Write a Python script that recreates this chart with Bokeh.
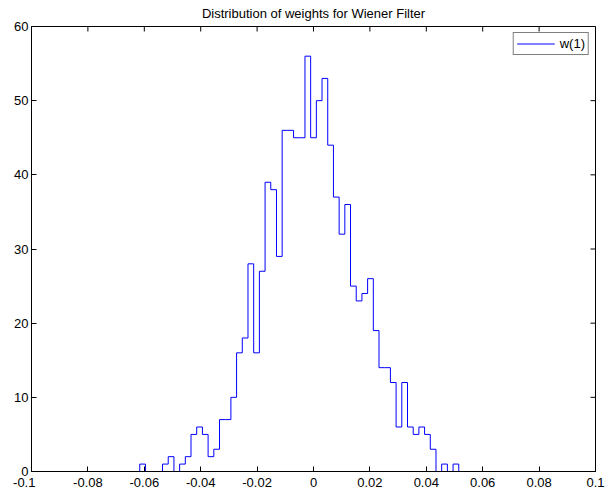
from bokeh.plotting import figure
from bokeh.models import Range1d, FixedTicker, Legend, LegendItem
from bokeh.embed import file_html
from bokeh.resources import INLINE
import numpy as np

# Histogram of the first Wiener filter weight: 100 stair edges spanning [-0.1, 0.1]
edge_start = -0.1
edge_stop = 0.1
n_edges = 100
counts = [
    0, 0, 0, 0, 0, 0, 0, 0, 0, 0,
    0, 0, 0, 0, 0, 0, 0, 0, 0, 1,
    0, 0, 0, 1, 2, 0, 1, 2, 5, 6,
    5, 2, 3, 7, 7, 10, 16, 18, 28, 16,
    27, 39, 38, 29, 46, 46, 45, 45, 56, 45,
    50, 53, 44, 37, 32, 36, 25, 23, 24, 26,
    19, 14, 14, 12, 6, 12, 6, 5, 6, 5,
    3, 0, 1, 0, 1, 0, 0, 0, 0, 0,
    0, 0, 0, 0, 0, 0, 0, 0, 0, 0,
    0, 0, 0, 0, 0, 0, 0, 0, 0, 0,
]
series_label = "w(1)"
x_ticks = [-0.1, -0.08, -0.06, -0.04, -0.02, 0, 0.02, 0.04, 0.06, 0.08, 0.1]
x_tick_labels = ["-0.1", "-0.08", "-0.06", "-0.04", "-0.02", "0",
                 "0.02", "0.04", "0.06", "0.08", "0.1"]
y_ticks = [0, 10, 20, 30, 40, 50, 60]
x_min, x_max = -0.1, 0.1
y_min, y_max = 0, 60

edges = np.linspace(edge_start, edge_stop, n_edges)

FONT = "Liberation Sans"

p = figure(width=615, height=493,
           x_range=Range1d(x_min, x_max), y_range=Range1d(y_min, y_max),
           output_backend="svg", toolbar_location=None,
           title="Distribution of weights for Wiener Filter",
           min_border_left=31, min_border_right=20,
           min_border_top=26, min_border_bottom=22)
p.title.align = "center"
p.title.vertical_align = "top"
p.title.text_font = FONT
p.title.text_font_size = "13px"
p.title.text_font_style = "normal"
p.title.text_color = "black"
p.title.standoff = 8

p.xgrid.visible = False
p.ygrid.visible = False
p.background_fill_color = "white"
p.border_fill_color = "white"
p.outline_line_color = "black"
p.outline_line_width = 1

for ax, ticks in ((p.xaxis[0], x_ticks), (p.yaxis[0], y_ticks)):
    ax.ticker = FixedTicker(ticks=ticks)
    ax.axis_line_color = "black"
    ax.major_tick_line_color = "black"
    ax.major_tick_in = 5
    ax.major_tick_out = 0
    ax.minor_tick_line_color = None
    ax.major_label_text_font = FONT
    ax.major_label_text_font_size = "13px"
    ax.major_label_text_color = "black"
    ax.major_label_standoff = 3

# The leftmost label sits a little left of its tick, clear of the y-axis "0"
x_label_map = {t: s for t, s in zip(x_ticks, x_tick_labels)}
x_label_map[x_ticks[0]] = x_tick_labels[0] + "\u00a0" * 4
p.xaxis[0].major_label_overrides = x_label_map

# Inward tick marks on the top and right edges of the box (half of each dash is clipped)
p.scatter(x_ticks, [y_max] * len(x_ticks), marker="dash", angle=np.pi / 2,
          size=10, line_color="black", line_width=1)
p.scatter([x_max] * len(y_ticks), y_ticks, marker="dash",
          size=10, line_color="black", line_width=1)

r = p.step(edges, counts, mode="after", line_color="#0000ff", line_width=1)

legend = Legend(items=[LegendItem(label=series_label, renderers=[r])],
                location="top_right")
legend.label_text_font = FONT
legend.label_text_font_size = "13px"
legend.label_text_color = "black"
legend.border_line_color = "black"
legend.border_line_width = 1
legend.padding = 3
legend.margin = 6
legend.spacing = 0
legend.glyph_width = 38
legend.glyph_height = 15
legend.label_height = 15
legend.label_standoff = 5
legend.background_fill_alpha = 1
p.add_layout(legend, "center")

open("out.html", "w").write(file_html(p, INLINE))
